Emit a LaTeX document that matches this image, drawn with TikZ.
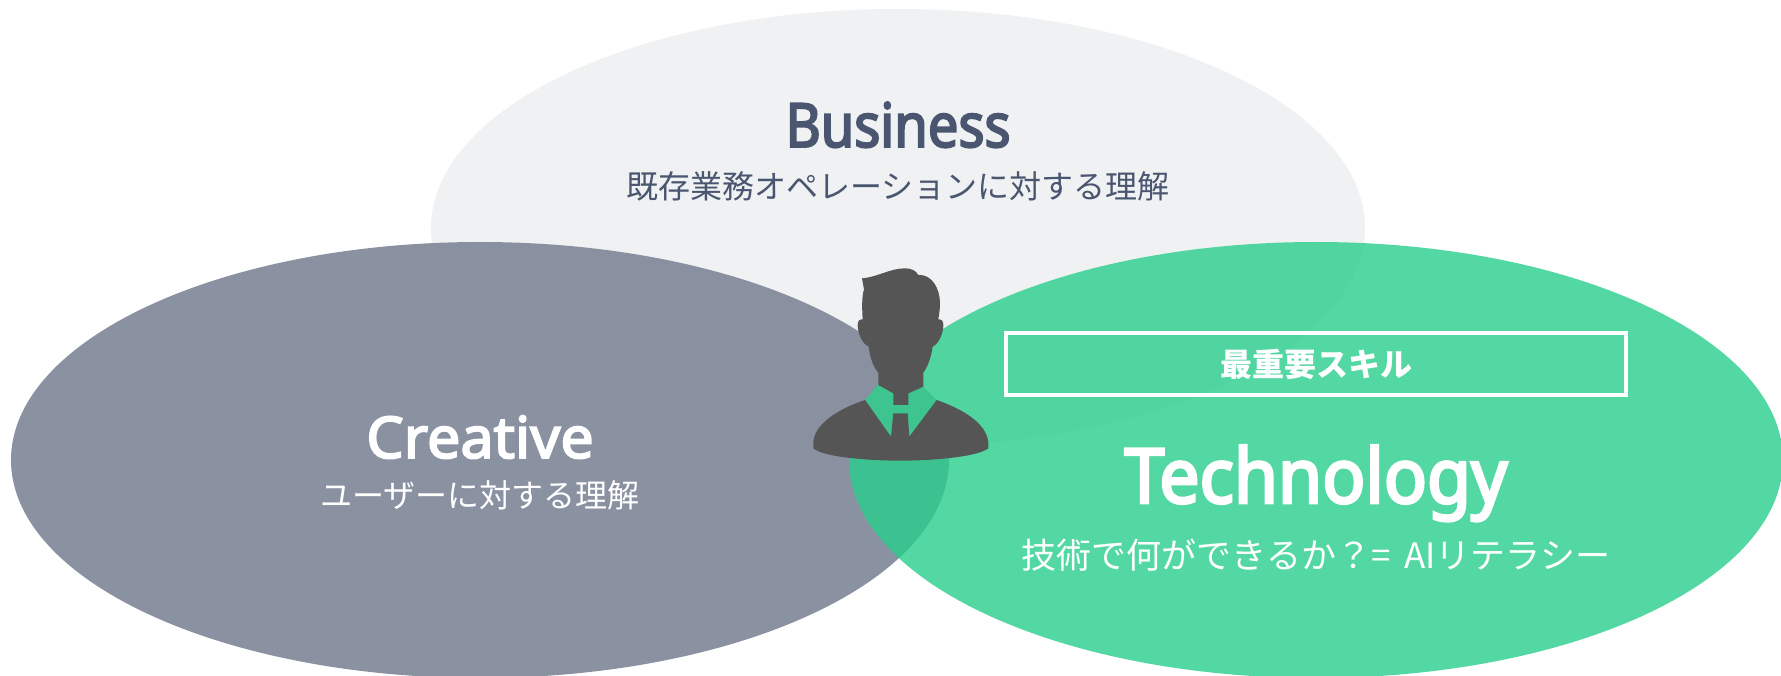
\documentclass[tikz,border=0pt]{standalone}
\usepackage{fontspec}
\setmainfont{Noto Sans CJK JP}
\newfontfamily\jpfont{Noto Sans CJK JP}
\newfontfamily\titBiz[FakeBold=3.2,FakeStretch=.89]{Noto Sans}
\newfontfamily\titCre[FakeBold=3.2,FakeStretch=1.03]{Noto Sans}
\newfontfamily\titTec[FakeBold=3.6,FakeStretch=.94]{Noto Sans}
\definecolor{navy}{HTML}{4A5570}
\definecolor{bizfill}{HTML}{EFF1F3}
\definecolor{crefill}{HTML}{7E8798}
\definecolor{tecfill}{HTML}{29CF8D}
\definecolor{collar}{HTML}{3DC48F}
\definecolor{person}{HTML}{555555}
\tikzset{
  x=1pt,y=-1pt,
  title/.style={inner sep=0pt,anchor=base},
  sub/.style={inner sep=0pt,anchor=center,font=\jpfont\fontsize{32}{36}\selectfont},
  dark/.style={fill=person,draw=none},
  green/.style={fill=collar,draw=none},
}
\begin{document}
\begin{tikzpicture}
\useasboundingbox (0,0) rectangle (1781,676);
\fill[white] (0,0) rectangle (1781,676);
\path[fill=bizfill] (898,228) ellipse [x radius=467,y radius=219];
\path[fill=crefill,fill opacity=.9] (480,460) ellipse [x radius=469,y radius=218];
\path[fill=tecfill,fill opacity=.8] (1316,460) ellipse [x radius=467,y radius=218];
\begin{scope}[shift={(790,250)},x=.33333pt,y=-.33333pt]
\path[green] (225,450) -- (265,405) -- (310,430) -- (355,430) -- (398,410) -- (440,450) -- (358,560) -- (303,560) -- cycle;
\path[dark] (216,85) .. controls (260,82) and (300,55) .. (345,55)
  .. controls (365,55) and (378,62) .. (385,75)
  .. controls (425,72) and (450,115) .. (450,160)
  .. controls (450,180) and (447,195) .. (445,208)
  .. controls (455,208) and (461,212) .. (460,228)
  .. controls (458,255) and (445,282) .. (428,290)
  .. controls (423,325) and (412,352) .. (400,368)
  -- (400,410) -- (355,430) -- (355,465) -- (310,465) -- (310,430) -- (265,405) -- (265,368)
  .. controls (250,350) and (240,325) .. (236,290)
  .. controls (218,282) and (205,255) .. (203,228)
  .. controls (202,212) and (208,208) .. (218,208)
  .. controls (216,175) and (215,140) .. (222,118)
  -- cycle;
\path[dark] (70,578) .. controls (72,520) and (150,475) .. (225,450)
  -- (303,560) -- (310,490) -- (353,490) -- (358,560) -- (440,450)
  .. controls (520,478) and (590,520) .. (595,578)
  -- (595,595) .. controls (560,622) and (420,632) .. (330,632)
  .. controls (240,632) and (100,622) .. (70,595) -- cycle;
\end{scope}
\node[title,font=\titBiz\fontsize{61}{64}\selectfont,text=navy] (biz) at (898,147) {Business};
\node[sub,text=navy] (bizsub) at (898,186) {既存業務オペレーションに対する理解};
\node[title,font=\titCre\fontsize{57.5}{62}\selectfont,text=white] (cre) at (480,458) {Creative};
\node[sub,text=white] (cresub) at (480,495) {ユーザーに対する理解};
\node[draw=white,line width=4pt,minimum width=620pt,minimum height=62pt,inner sep=0pt,text=white,font=\jpfont\bfseries\fontsize{32}{36}\selectfont] (key) at (1316,364) {最重要スキル};
\node[title,font=\titTec\fontsize{76}{80}\selectfont,text=white] (tec) at (1316,503) {Technology};
\node[sub,text=white,font=\jpfont\fontsize{35}{40}\selectfont] (tecsub) at (1316,555) {技術で何ができるか？= \,AIリテラシー};
\end{tikzpicture}
\end{document}
